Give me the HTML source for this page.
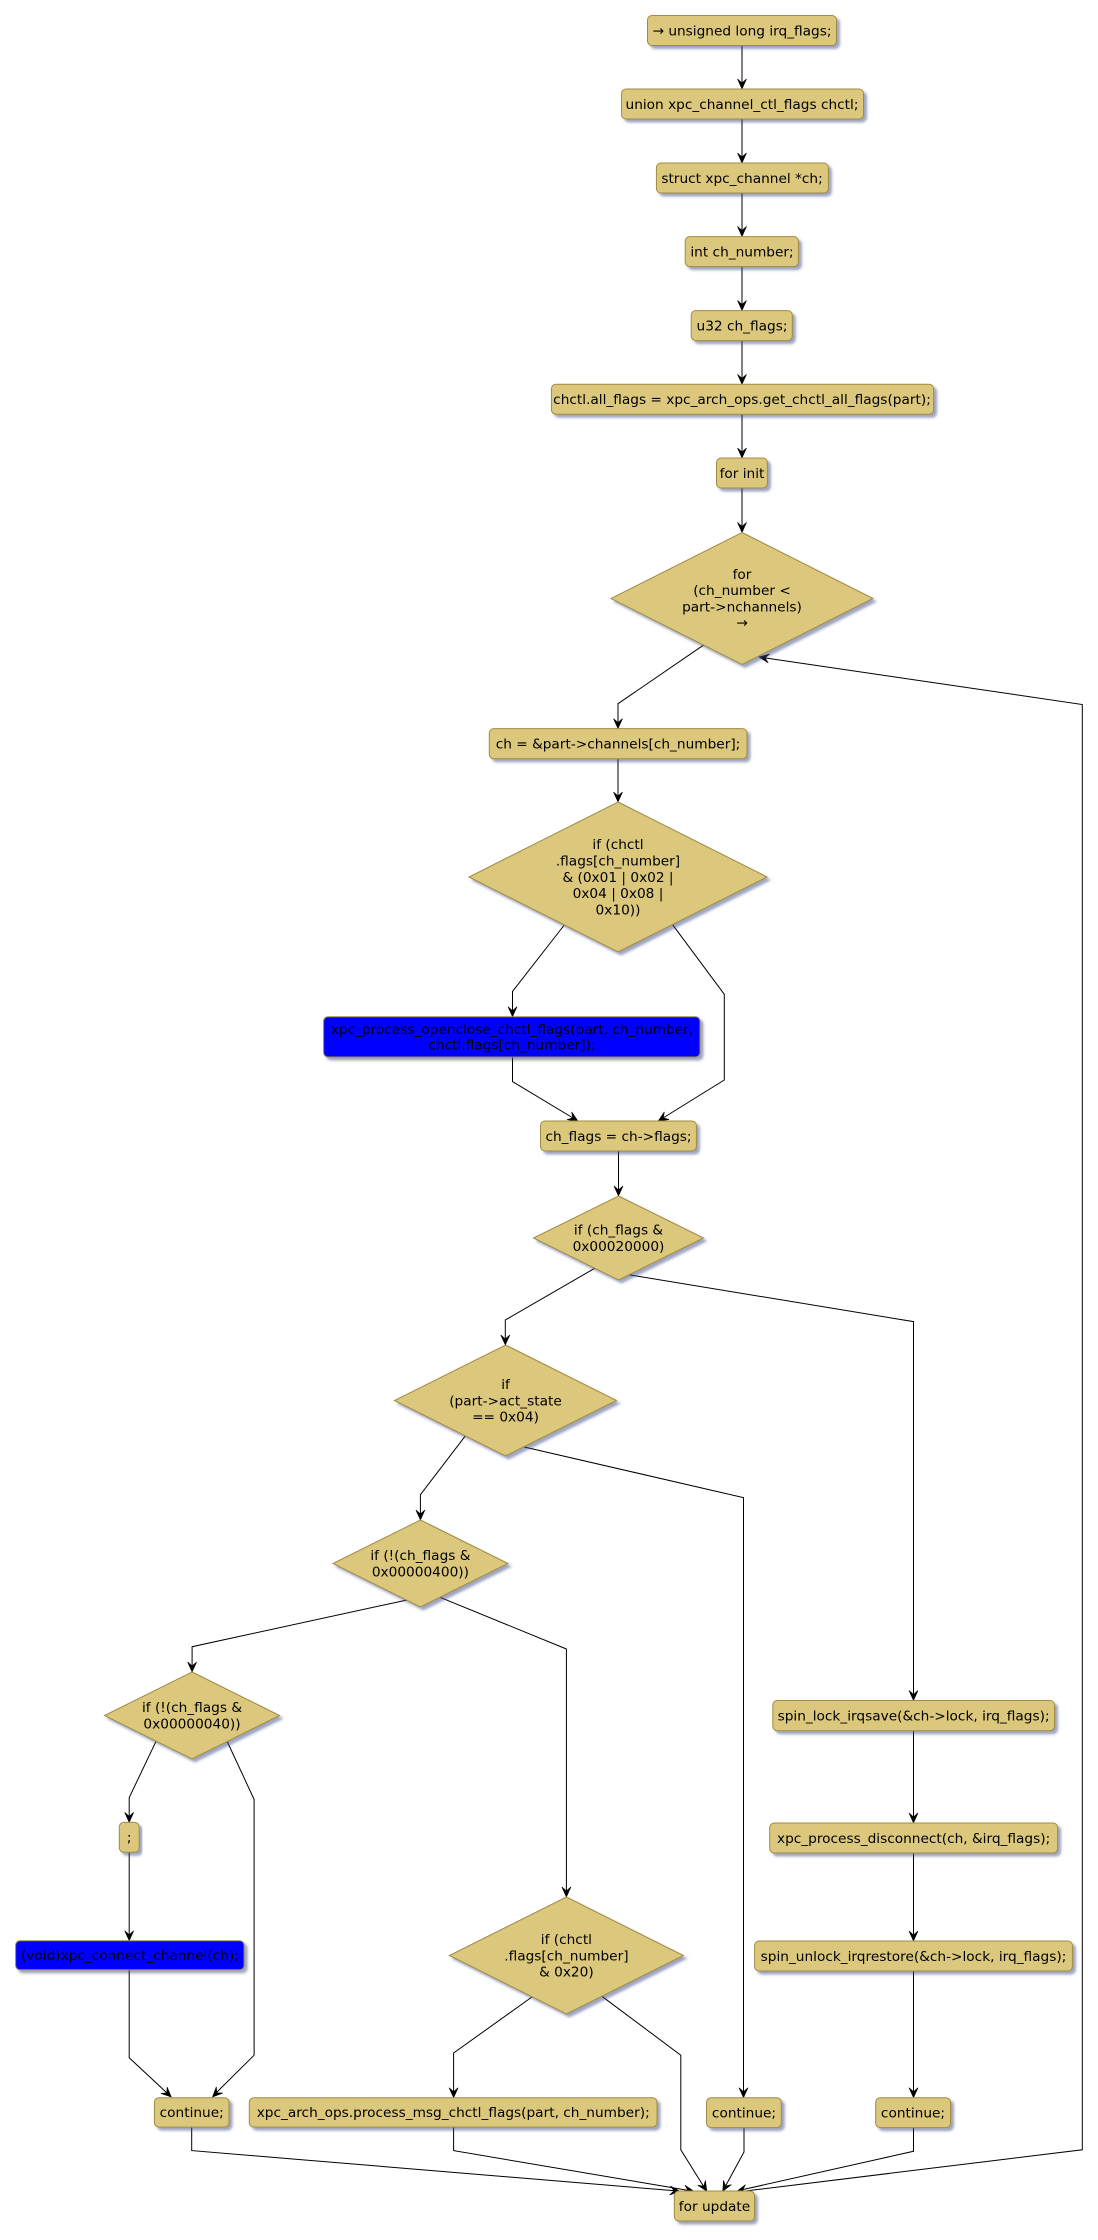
<!DOCTYPE html>
<html><head><meta charset="utf-8"><style>
html,body{margin:0;padding:0;background:#fff;}
svg{display:block;}
text{font-family:"DejaVu Sans","Liberation Sans",sans-serif;font-size:13.7px;fill:#000;text-anchor:middle;}
.b{fill:#DBC87C;stroke:#A08B42;stroke-width:1;filter:url(#sh);}
.u{fill:#0000FF;stroke:#A08B42;stroke-width:1;filter:url(#sh);}
.e{fill:none;stroke:#000;stroke-width:1;}
.a{fill:#000;stroke:#000;stroke-width:0.6;}
</style></head><body>
<svg width="1098" height="2240" viewBox="0 0 1098 2240" xmlns="http://www.w3.org/2000/svg">
<defs>
<filter id="sh" x="-10%" y="-20%" width="125%" height="160%">
<feDropShadow dx="3" dy="3" stdDeviation="1.4" flood-color="#3c4a80" flood-opacity="0.5"/>
</filter>
</defs>
<rect width="1098" height="2240" fill="#fff"/>

<!-- edges -->
<g class="e">
<line x1="742" y1="45.5" x2="742" y2="84"/>
<line x1="742" y1="119" x2="742" y2="158"/>
<line x1="742" y1="193" x2="742" y2="231"/>
<line x1="742" y1="266.5" x2="742" y2="305"/>
<line x1="742" y1="340.6" x2="742" y2="379"/>
<line x1="742" y1="414.2" x2="742" y2="453"/>
<line x1="742" y1="488" x2="742" y2="527"/>
<polyline points="703.6,645.1 618,703.7 618,723"/>
<line x1="618" y1="758.8" x2="618" y2="797"/>
<polyline points="564.3,925 512.5,991.4 512.5,1011"/>
<polyline points="672.5,924.6 724.3,994.3 724.3,1080 663,1118"/>
<polyline points="512.5,1057 512.5,1081.6 573,1118"/>
<line x1="618.5" y1="1151" x2="618.5" y2="1191"/>
<polyline points="594.7,1268.3 505.3,1320 505.3,1340"/>
<polyline points="629,1274.8 913.5,1321.6 913.5,1695"/>
<polyline points="465.3,1435.9 420.4,1494.7 420.4,1515"/>
<polyline points="523.7,1446.9 743.5,1497.6 743.5,2092"/>
<polyline points="406.5,1600.1 192.1,1646.7 192.1,1667"/>
<polyline points="440,1597.3 566.4,1649 566.4,1892"/>
<polyline points="156.1,1741.2 129.2,1797.6 129.2,1817"/>
<polyline points="227.2,1741.5 254.1,1799.4 254.1,2055.2 216,2093"/>
<line x1="129.2" y1="1852.3" x2="129.2" y2="1935"/>
<polyline points="129.2,1969.8 129.2,2057.8 167,2093"/>
<polyline points="532.1,1996.9 453.6,2053 453.6,2092"/>
<polyline points="601.9,1996.3 680.8,2055.2 680.8,2149.8 704,2187"/>
<polyline points="191.7,2126.8 191.7,2150.6 675,2190.8"/>
<polyline points="453.6,2126.8 453.6,2150.6 689,2190.5"/>
<polyline points="744,2127.6 744,2152 725,2187"/>
<line x1="913.5" y1="1730.7" x2="913.5" y2="1818"/>
<line x1="913.5" y1="1853" x2="913.5" y2="1936"/>
<line x1="913.5" y1="1971" x2="913.5" y2="2092"/>
<polyline points="913.5,2127.6 913.5,2151.3 741,2190"/>
<polyline points="745.3,2191 1082.3,2149.8 1082.3,704.5 764,657.8"/>
</g>

<!-- arrowheads -->
<g class="a">
<polygon points="742,89 746.5,79 742,83 737.5,79"/>
<polygon points="742,163 746.5,153 742,157 737.5,153"/>
<polygon points="742,236.5 746.5,226.5 742,230.5 737.5,226.5"/>
<polygon points="742,310.5 746.5,300.5 742,304.5 737.5,300.5"/>
<polygon points="742,384.3 746.5,374.3 742,378.3 737.5,374.3"/>
<polygon points="742,458 746.5,448 742,452 737.5,448"/>
<polygon points="742,532.5 746.5,522.5 742,526.5 737.5,522.5"/>
<polygon points="618,728.6 622.5,718.6 618,722.6 613.5,718.6"/>
<polygon points="618,802 622.5,792 618,796 613.5,792"/>
<polygon points="512.5,1016.7 517,1006.7 512.5,1010.7 508,1006.7"/>
<polygon points="658.2,1121 669.07,1119.56 663.3,1117.84 664.33,1111.9"/>
<polygon points="577.9,1121 571.65,1111.98 572.76,1117.9 567.01,1119.7"/>
<polygon points="618.5,1196 623,1186 618.5,1190 614,1186"/>
<polygon points="505.3,1345 509.8,1335 505.3,1339 500.8,1335"/>
<polygon points="913.5,1700.5 918,1690.5 913.5,1694.5 909,1690.5"/>
<polygon points="420.4,1520 424.9,1510 420.4,1514 415.9,1510"/>
<polygon points="743.5,2097.7 748,2087.7 743.5,2091.7 739,2087.7"/>
<polygon points="192.1,1672 196.6,1662 192.1,1666 187.6,1662"/>
<polygon points="566.4,1897 570.9,1887 566.4,1891 561.9,1887"/>
<polygon points="129.2,1822.4 133.7,1812.4 129.2,1816.4 124.7,1812.4"/>
<polygon points="212.5,2097 222.74,2093.08 216.73,2092.75 216.36,2086.74"/>
<polygon points="129.2,1940.7 133.7,1930.7 129.2,1934.7 124.7,1930.7"/>
<polygon points="171.3,2097 167.04,2086.9 166.91,2092.91 160.92,2093.48"/>
<polygon points="453.6,2097.7 458.1,2087.7 453.6,2091.7 449.1,2087.7"/>
<polygon points="706.9,2191.3 705.39,2180.45 703.71,2186.22 697.77,2185.23"/>
<polygon points="680,2191.3 670.41,2185.99 674.02,2190.8 669.66,2194.96"/>
<polygon points="694,2191.3 684.89,2185.19 688.08,2190.3 683.39,2194.07"/>
<polygon points="722.7,2191.3 731.43,2184.65 725.56,2186.03 723.51,2180.37"/>
<polygon points="913.5,1823 918,1813 913.5,1817 909,1813"/>
<polygon points="913.5,1941 918,1931 913.5,1935 909,1931"/>
<polygon points="913.5,2097.7 918,2087.7 913.5,2091.7 909,2087.7"/>
<polygon points="736.7,2191.3 747.44,2193.48 742.55,2189.98 745.46,2184.7"/>
<polygon points="759,657 768.24,662.9 764.94,657.87 769.54,654"/>
</g>

<!-- boxes -->
<rect class="b" x="647.5" y="15.5" width="189" height="30" rx="4.5"/>
<rect class="b" x="621.5" y="89" width="242" height="30" rx="4.5"/>
<rect class="b" x="656.4" y="163" width="172" height="30" rx="4.5"/>
<rect class="b" x="685.2" y="236.6" width="113.2" height="30" rx="4.5"/>
<rect class="b" x="691.2" y="310.6" width="101.1" height="30" rx="4.5"/>
<rect class="b" x="551.4" y="384.2" width="382.2" height="30" rx="4.5"/>
<rect class="b" x="716.5" y="458" width="50.9" height="30" rx="4.5"/>
<rect class="b" x="489.3" y="728.6" width="257.7" height="30.2" rx="4.5"/>
<rect class="u" x="323.6" y="1016.7" width="376.4" height="40.3" rx="4.5"/>
<rect class="b" x="540.5" y="1121" width="155.9" height="30" rx="4.5"/>
<rect class="b" x="119.3" y="1822.4" width="19.9" height="29.9" rx="4.5"/>
<rect class="u" x="15.6" y="1940.7" width="228.5" height="29.1" rx="4.5"/>
<rect class="b" x="154.4" y="2097.7" width="74.6" height="29.4" rx="4.5"/>
<rect class="b" x="249.3" y="2097.7" width="407.7" height="29.4" rx="4.5"/>
<rect class="b" x="706.5" y="2097.7" width="74.8" height="29.9" rx="4.5"/>
<rect class="b" x="772.8" y="1700.5" width="281.7" height="30.2" rx="4.5"/>
<rect class="b" x="769.7" y="1823" width="287.9" height="30" rx="4.5"/>
<rect class="b" x="754.6" y="1941" width="317.8" height="30" rx="4.5"/>
<rect class="b" x="875.7" y="2097.7" width="74.8" height="29.9" rx="4.5"/>
<rect class="b" x="674.3" y="2191" width="80.2" height="30" rx="4.5"/>

<!-- diamonds -->
<polygon class="b" points="742,532.5 873,598.5 742,664.5 611,598.5"/>
<polygon class="b" points="618,802 767,877 618,952 469,877"/>
<polygon class="b" points="618.5,1196 703.5,1238 618.5,1280 533.5,1238"/>
<polygon class="b" points="505.5,1345 616.5,1400.5 505.5,1456 394.5,1400.5"/>
<polygon class="b" points="420.4,1520 508,1563.5 420.4,1607 333,1563.5"/>
<polygon class="b" points="192,1672 279.5,1715.5 192,1759 104.5,1715.5"/>
<polygon class="b" points="566.4,1897 683.4,1955.5 566.4,2014 449.4,1955.5"/>

<!-- box texts -->
<text x="742" y="35.3">→ unsigned long irq_flags;</text>
<text x="742" y="108.8">union xpc_channel_ctl_flags chctl;</text>
<text x="742" y="182.8">struct xpc_channel *ch;</text>
<text x="742" y="256.4">int ch_number;</text>
<text x="742" y="330.4">u32 ch_flags;</text>
<text x="742" y="404">chctl.all_flags = xpc_arch_ops.get_chctl_all_flags(part);</text>
<text x="742" y="477.8">for init</text>
<text x="618" y="748.5">ch = &amp;part-&gt;channels[ch_number];</text>
<text x="512" y="1033.8">xpc_process_openclose_chctl_flags(part, ch_number,</text>
<text x="512" y="1049.6">chctl.flags[ch_number]);</text>
<text x="618.5" y="1140.8">ch_flags = ch-&gt;flags;</text>
<text x="129.2" y="1842.2">;</text>
<text x="129.9" y="1960">(void)xpc_connect_channel(ch);</text>
<text x="191.7" y="2117">continue;</text>
<text x="453.2" y="2117">xpc_arch_ops.process_msg_chctl_flags(part, ch_number);</text>
<text x="744" y="2117.4">continue;</text>
<text x="913.6" y="1720.4">spin_lock_irqsave(&amp;ch-&gt;lock, irq_flags);</text>
<text x="913.6" y="1842.8">xpc_process_disconnect(ch, &amp;irq_flags);</text>
<text x="913.5" y="1960.8">spin_unlock_irqrestore(&amp;ch-&gt;lock, irq_flags);</text>
<text x="913" y="2117.4">continue;</text>
<text x="714.5" y="2210.8">for update</text>

<!-- diamond texts -->
<text x="742" y="578.9">for</text>
<text x="742" y="595.2">(ch_number &lt;</text>
<text x="742" y="611.4">part-&gt;nchannels)</text>
<text x="742" y="627.7">→</text>

<text x="618" y="849.2">if (chctl</text>
<text x="618" y="865.5">.flags[ch_number]</text>
<text x="618" y="881.8">&amp; (0x01 | 0x02 |</text>
<text x="618" y="898.1">0x04 | 0x08 |</text>
<text x="618" y="914.4">0x10))</text>

<text x="618.5" y="1234.7">if (ch_flags &amp;</text>
<text x="618.5" y="1250.9">0x00020000)</text>

<text x="505.5" y="1389">if</text>
<text x="505.5" y="1405.3">(part-&gt;act_state</text>
<text x="505.5" y="1421.6">== 0x04)</text>

<text x="420.4" y="1560.2">if (!(ch_flags &amp;</text>
<text x="420.4" y="1576.4">0x00000400))</text>

<text x="192" y="1712.2">if (!(ch_flags &amp;</text>
<text x="192" y="1728.4">0x00000040))</text>

<text x="566.4" y="1944">if (chctl</text>
<text x="566.4" y="1960.3">.flags[ch_number]</text>
<text x="566.4" y="1976.6">&amp; 0x20)</text>
</svg>
</body></html>
